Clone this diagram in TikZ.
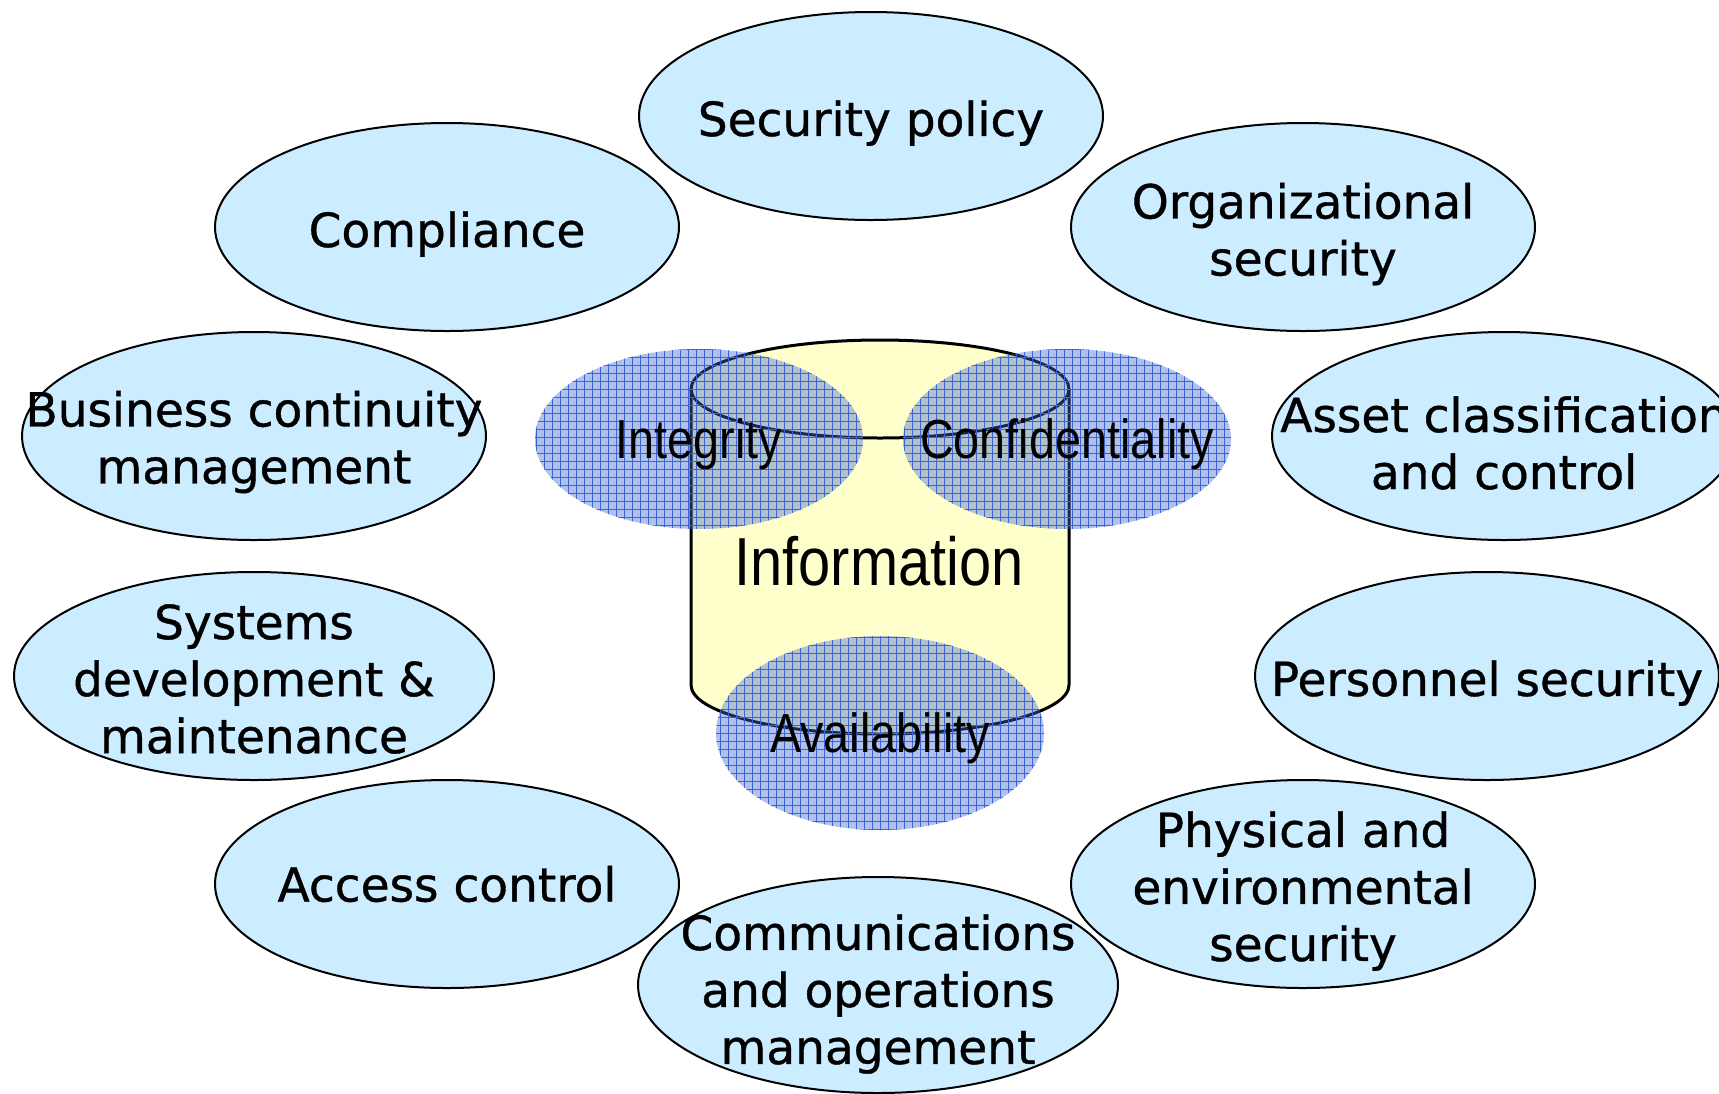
\documentclass[tikz,border=0pt]{standalone}
\usepackage{fontspec}
\setmainfont[FakeBold=0.8]{DejaVu Sans}
\newfontfamily\narrowfont[FakeStretch=0.85]{Liberation Sans}
\usetikzlibrary{shapes.geometric,patterns}
\definecolor{topicblue}{RGB}{204,236,255}
\definecolor{infoyellow}{RGB}{255,255,204}
\definecolor{propblue}{RGB}{60,100,210}
\pgfdeclarepatternformonly{propgrid}{\pgfqpoint{-1pt}{-1pt}}{\pgfqpoint{5pt}{5pt}}{\pgfqpoint{4pt}{4pt}}{
    \pgfsetlinewidth{0.45pt}
    \pgfpathmoveto{\pgfqpoint{0pt}{0pt}}\pgfpathlineto{\pgfqpoint{0pt}{4.1pt}}
    \pgfpathmoveto{\pgfqpoint{0pt}{0pt}}\pgfpathlineto{\pgfqpoint{4.1pt}{0pt}}
    \pgfusepath{stroke}}

\begin{document}
\begin{tikzpicture}[x=0.5pt,y=-0.5pt,
    topic/.style={ellipse,draw=black,line width=1pt,fill=topicblue,
        minimum width=232pt,minimum height=104pt,inner sep=0pt},
    topictext/.style={align=center,yshift=-3.5pt,inner sep=0pt,
        font=\fontsize{23.5}{28.5}\selectfont},
    prop/.style={ellipse,fill=propblue,fill opacity=0.4,text opacity=1,
        minimum width=164pt,minimum height=90pt,inner sep=-45pt,
        font=\narrowfont\fontsize{27.5}{32}\selectfont,
        postaction={pattern=propgrid,pattern color=propblue,fill opacity=0.6}}]
    \useasboundingbox (0,0) rectangle (1719,1093);

    % the eleven control areas
    \node[topic,label={[topictext]center:Security policy}] (policy) at (871,116) {};
    \node[topic,label={[topictext]center:Compliance}] (compliance) at (447,227) {};
    \node[topic,label={[topictext]center:Organizational\\security}] (organization) at (1303,227) {};
    \node[topic,label={[topictext,yshift=0.5pt]center:Business continuity\\management}] (continuity) at (254,436) {};
    \node[topic,label={[topictext]center:Asset classification\\and control}] (asset) at (1504,436) {};
    \node[topic,minimum width=240pt,label={[topictext,yshift=2pt]center:Systems\\development \&\\maintenance}] (systems) at (254,676) {};
    \node[topic,label={[topictext]center:Personnel security}] (personnel) at (1487,676) {};
    \node[topic,label={[topictext,yshift=3.5pt]center:Access control}] (access) at (447,884) {};
    \node[topic,label={[topictext]center:Physical and\\environmental\\security}] (physical) at (1303,884) {};
    \node[topic,minimum width=240pt,minimum height=108pt,
        label={[topictext,yshift=-1pt]center:Communications\\and operations\\management}] (comms) at (878,985) {};

    % information store
    \fill[infoyellow] (691,389) -- (691,685)
        arc[start angle=180,end angle=360,x radius=94.5pt,y radius=24.5pt]
        -- (1069,389) -- cycle;
    \fill[infoyellow] (880,389) ellipse [x radius=94.5pt,y radius=24.5pt];
    \draw[line width=1.5pt] (691,389) -- (691,685)
        arc[start angle=180,end angle=360,x radius=94.5pt,y radius=24.5pt]
        -- (1069,389);
    \draw[line width=1.5pt] (880,389) ellipse [x radius=94.5pt,y radius=24.5pt];
    \node[font=\narrowfont\fontsize{34}{40}\selectfont] (info) at (879,561) {Information};

    % the three properties
    \node[prop] (integrity) at (699,439) {\raisebox{-2.5pt}[\height][\depth]{Integrity}};
    \node[prop] (confidentiality) at (1067,439) {\raisebox{-2.5pt}[\height][\depth]{Confidentiality}};
    \node[prop,minimum height=97pt] (availability) at (880,733) {\raisebox{-2.5pt}[\height][\depth]{Availability}};
\end{tikzpicture}
\end{document}
